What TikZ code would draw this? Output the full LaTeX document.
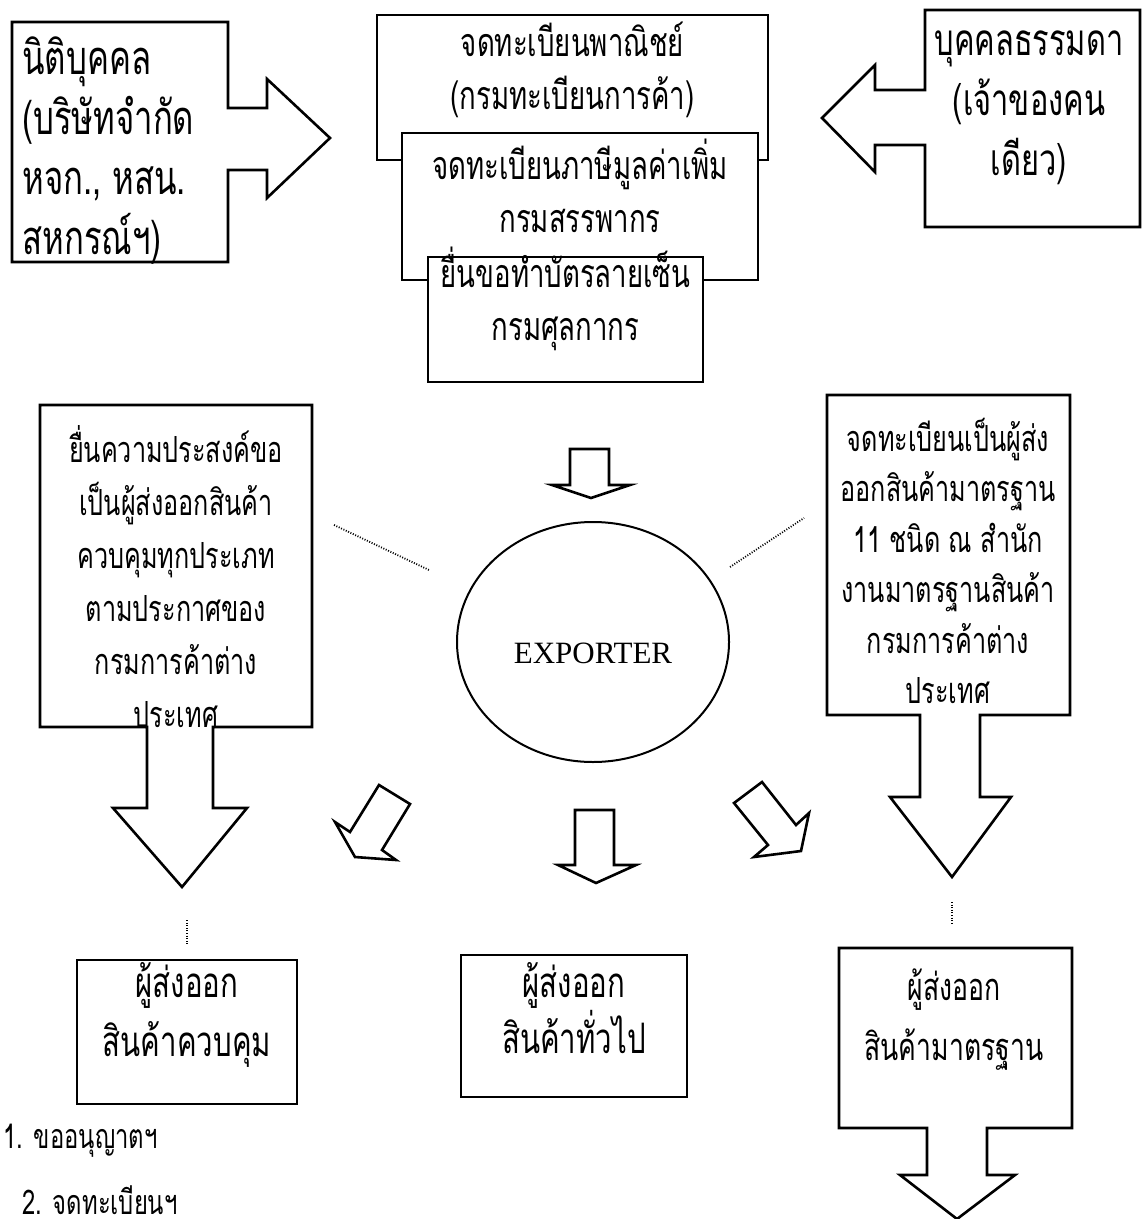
\documentclass[tikz,border=0pt]{standalone}
\usepackage{fontspec}
\setmainfont{Liberation Serif}
\newfontfamily\thaifont[Script=Thai, FakeStretch=0.7]{Loma}
\newcommand\thaisize[2]{\thaifont\fontsize{#1}{#2}\selectfont}
\usetikzlibrary{positioning,fit,shapes.geometric}

\begin{document}
\begin{tikzpicture}[x=0.5pt, y=-0.5pt,
    txt/.style={inner sep=0pt, align=center, font=\thaisize{19.7}{26.5}},
    box/.style={txt, draw, fill=white, line width=1.3pt},
    blk/.style={draw, line width=1.3pt, line join=miter},
    hub/.style={ellipse, draw, line width=1pt, inner sep=0pt,
      minimum width=136pt, minimum height=120pt},
    dots/.style={line width=0.9pt, dash pattern=on 0.5pt off 0.8pt}]
  \useasboundingbox (0,0) rectangle (1147,1219);

  % who registers
  \node[txt, font=\thaisize{23.5}{30}, align=left, anchor=west] (legal) at (22,151)
    {นิติบุคคล\\(บริษัทจำกัด\\หจก., หสน.\\สหกรณ์ฯ)};
  \draw[blk] (12,22) -- (228,22) -- (228,108) -- (267,108) -- (267,79)
    -- (330,138) -- (267,198) -- (267,170) -- (228,170) -- (228,262)
    -- (12,262) -- cycle;

  \node[txt, font=\thaisize{22}{30}] (person) at (1029,108)
    {บุคคลธรรมดา\\(เจ้าของคน\\เดียว)};
  \draw[blk] (1140,10) -- (925,10) -- (925,90) -- (875,90) -- (875,65)
    -- (822,118) -- (875,172) -- (875,145) -- (925,145) -- (925,227)
    -- (1140,227) -- cycle;

  % registrations
  \node[box, fit={(377,15) (768,160)}] (trade)
    {จดทะเบียนพาณิชย์\\(กรมทะเบียนการค้า)};
  \node[box, fit={(402,133) (758,280)}] (vat)
    {จดทะเบียนภาษีมูลค่าเพิ่ม\\กรมสรรพากร};
  \node[box, fit={(428,257) (703,382)}] (sign)
    {ยื่นขอทำบัตรลายเซ็น\\กรมศุลกากร};

  \draw[blk] (570,449) -- (609,449) -- (609,485) -- (630,485) -- (591,498)
    -- (552,485) -- (570,485) -- cycle;

  % exporter
  \node[hub, label={[font=\fontsize{15.5}{18}\selectfont, yshift=-5.5pt]center:EXPORTER}]
    (exp) at (593,642) {};

  \node[txt, font=\thaisize{18}{26.5}] (ctrl) at (176,577)
    {ยื่นความประสงค์ขอ\\เป็นผู้ส่งออกสินค้า\\ควบคุมทุกประเภท\\ตามประกาศของ\\กรมการค้าต่าง\\ประเทศ};
  \draw[blk] (40,405) -- (312,405) -- (312,727) -- (213,727) -- (213,808)
    -- (247,808) -- (182,887) -- (113,808) -- (147,808) -- (147,727)
    -- (40,727) -- cycle;

  \node[txt, font=\thaisize{18}{25.2}] (std) at (948,561)
    {จดทะเบียนเป็นผู้ส่ง\\ออกสินค้ามาตรฐาน\\11 ชนิด ณ สำนัก\\งานมาตรฐานสินค้า\\กรมการค้าต่าง\\ประเทศ};
  \draw[blk] (827,395) -- (1070,395) -- (1070,715) -- (980,715) -- (980,797)
    -- (1011,797) -- (952,877) -- (890,797) -- (920,797) -- (920,715)
    -- (827,715) -- cycle;

  \coordinate (l1) at (334,525); \coordinate (l2) at (429,570);
  \coordinate (r1) at (730,567); \coordinate (r2) at (804,518);
  \draw[dots] (l1) -- (l2);
  \draw[dots] (r1) -- (r2);

  % three kinds of exporter
  \draw[blk] (379,785) -- (410,804) -- (382,850) -- (396,860) -- (355,857)
    -- (335,822) -- (350,832) -- cycle;
  \draw[blk] (575,810) -- (614,810) -- (614,865) -- (636,865) -- (596,883)
    -- (558,865) -- (575,865) -- cycle;
  \draw[blk] (734,803) -- (762,782) -- (796,825) -- (809,813) -- (801,851)
    -- (754,857) -- (768,845) -- cycle;

  \node[box, font=\thaisize{21}{29.5}, fit={(77,960) (297,1104)}] (ctrlx)
    {ผู้ส่งออก\\สินค้าควบคุม};
  \node[box, font=\thaisize{21}{28}, fit={(461,955) (687,1097)}] (gen)
    {ผู้ส่งออก\\สินค้าทั่วไป};
  \node[txt, font=\thaisize{19}{30}] (stdx) at (954,1020)
    {ผู้ส่งออก\\สินค้ามาตรฐาน};
  \draw[blk] (839,948) -- (1072,948) -- (1072,1128) -- (987,1128)
    -- (987,1175) -- (1015,1175) -- (957,1219) -- (900,1175) -- (927,1175)
    -- (927,1128) -- (839,1128) -- cycle;

  \coordinate (c1) at (187,920); \coordinate (c2) at (187,945);
  \coordinate (s1) at (952,902); \coordinate (s2) at (952,925);
  \draw[dots] (c1) -- (c2);
  \draw[dots] (s1) -- (s2);

  \node[txt, font=\thaisize{17}{20}, anchor=west] (step1) at (3,1141) {1. ขออนุญาตฯ};
  \node[txt, font=\thaisize{17}{20}, anchor=west] (step2) at (22,1200) {2. จดทะเบียนฯ};
\end{tikzpicture}
\end{document}
